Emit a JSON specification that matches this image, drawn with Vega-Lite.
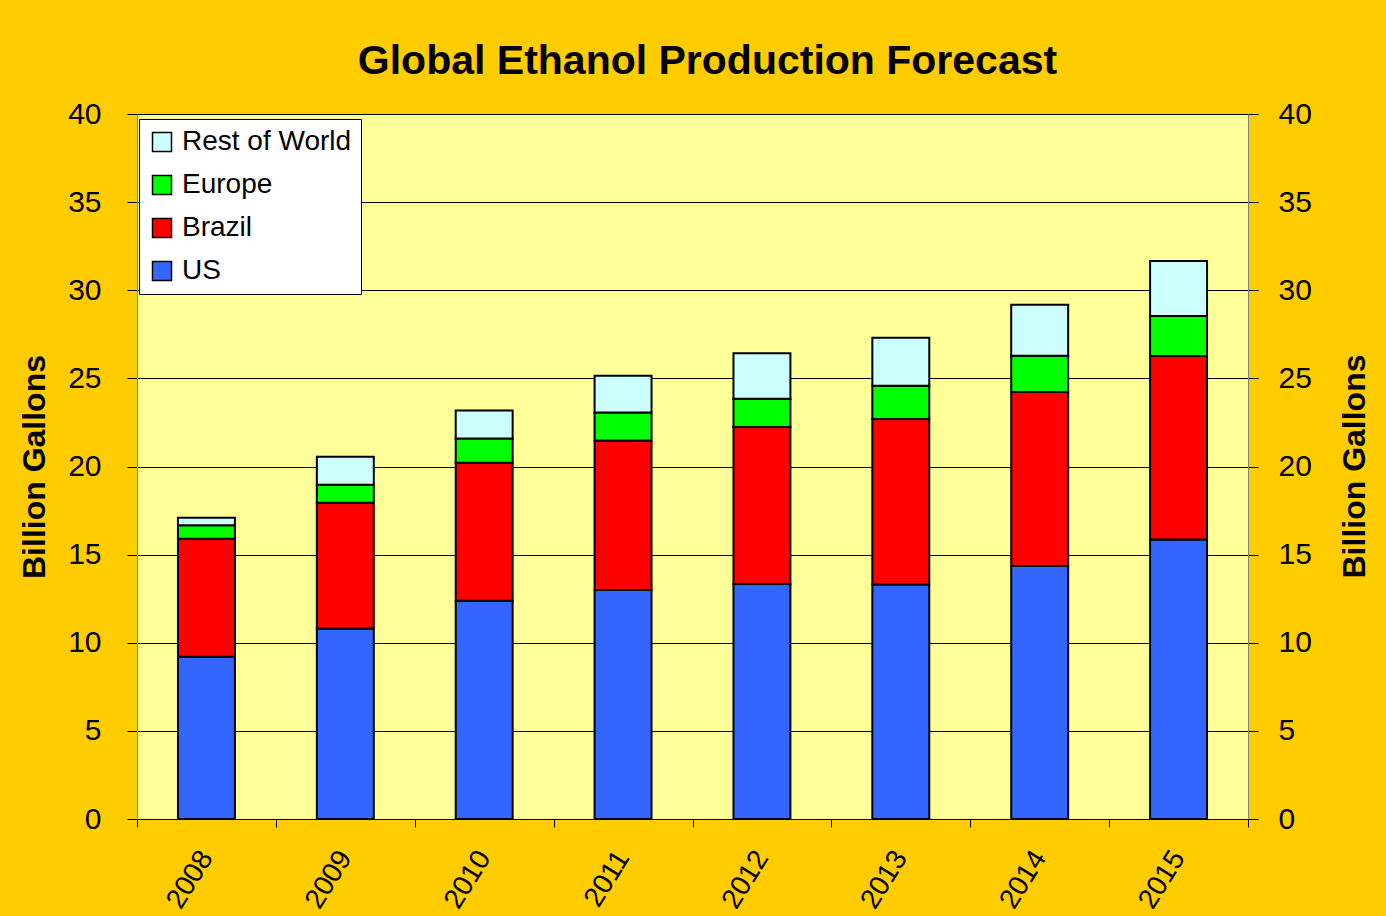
{
  "$schema": "https://vega.github.io/schema/vega-lite/v6.json",
  "autosize": {"type": "none"},
  "width": 1111,
  "height": 705,
  "padding": {"left": 137, "top": 114, "right": 138, "bottom": 97},
  "background": "#FFCC00",
  "title": {
    "text": "Global Ethanol Production Forecast",
    "font": "Liberation Sans",
    "fontSize": 41,
    "fontWeight": "bold",
    "color": "black",
    "anchor": "middle",
    "dx": 15,
    "offset": 16
  },
  "data": {
    "values": [
      {"year": "2008", "region": "US", "k": 1, "value": 9.21},
      {"year": "2008", "region": "Brazil", "k": 2, "value": 6.69},
      {"year": "2008", "region": "Europe", "k": 3, "value": 0.76},
      {"year": "2008", "region": "Rest of World", "k": 4, "value": 0.43},
      {"year": "2009", "region": "US", "k": 1, "value": 10.81},
      {"year": "2009", "region": "Brazil", "k": 2, "value": 7.14},
      {"year": "2009", "region": "Europe", "k": 3, "value": 1.02},
      {"year": "2009", "region": "Rest of World", "k": 4, "value": 1.59},
      {"year": "2010", "region": "US", "k": 1, "value": 12.39},
      {"year": "2010", "region": "Brazil", "k": 2, "value": 7.82},
      {"year": "2010", "region": "Europe", "k": 3, "value": 1.38},
      {"year": "2010", "region": "Rest of World", "k": 4, "value": 1.59},
      {"year": "2011", "region": "US", "k": 1, "value": 12.99},
      {"year": "2011", "region": "Brazil", "k": 2, "value": 8.48},
      {"year": "2011", "region": "Europe", "k": 3, "value": 1.6},
      {"year": "2011", "region": "Rest of World", "k": 4, "value": 2.08},
      {"year": "2012", "region": "US", "k": 1, "value": 13.33},
      {"year": "2012", "region": "Brazil", "k": 2, "value": 8.91},
      {"year": "2012", "region": "Europe", "k": 3, "value": 1.6},
      {"year": "2012", "region": "Rest of World", "k": 4, "value": 2.58},
      {"year": "2013", "region": "US", "k": 1, "value": 13.3},
      {"year": "2013", "region": "Brazil", "k": 2, "value": 9.39},
      {"year": "2013", "region": "Europe", "k": 3, "value": 1.89},
      {"year": "2013", "region": "Rest of World", "k": 4, "value": 2.73},
      {"year": "2014", "region": "US", "k": 1, "value": 14.35},
      {"year": "2014", "region": "Brazil", "k": 2, "value": 9.88},
      {"year": "2014", "region": "Europe", "k": 3, "value": 2.05},
      {"year": "2014", "region": "Rest of World", "k": 4, "value": 2.9},
      {"year": "2015", "region": "US", "k": 1, "value": 15.86},
      {"year": "2015", "region": "Brazil", "k": 2, "value": 10.41},
      {"year": "2015", "region": "Europe", "k": 3, "value": 2.27},
      {"year": "2015", "region": "Rest of World", "k": 4, "value": 3.12}
    ]
  },
  "encoding": {
    "x": {
      "field": "year",
      "type": "ordinal",
      "scale": {"paddingInner": 0, "paddingOuter": 0},
      "axis": {
        "title": null,
        "labelAngle": -58,
        "labelFont": "Liberation Sans",
        "labelFontSize": 28,
        "labelColor": "black",
        "labelPadding": 26,
        "tickBand": "extent",
        "tickSize": 8,
        "tickColor": "black",
        "domainColor": "black",
        "domainWidth": 1,
        "grid": false
      }
    }
  },
  "layer": [
    {
      "mark": {"type": "bar", "stroke": "black", "strokeWidth": 2, "width": {"band": 0.41}},
      "encoding": {
        "y": {
          "field": "value",
          "type": "quantitative",
          "stack": "zero",
          "scale": {"domain": [0, 40], "nice": false},
          "axis": {
            "orient": "left",
            "values": [0, 5, 10, 15, 20, 25, 30, 35, 40],
            "title": "Billion Gallons",
            "titleFont": "Liberation Sans",
            "titleFontSize": 32,
            "titleFontWeight": "bold",
            "titleColor": "black",
            "titlePadding": 16,
            "labelFont": "Liberation Sans",
            "labelFontSize": 30,
            "labelColor": "black",
            "labelPadding": 26,
            "tickSize": 10,
            "tickColor": "black",
            "domainColor": "#808080",
            "grid": true,
            "gridColor": "black",
            "gridWidth": 1
          }
        },
        "color": {
          "field": "region",
          "type": "nominal",
          "scale": {
            "domain": ["Rest of World", "Europe", "Brazil", "US"],
            "range": ["#CCFFFF", "#00FF00", "#FF0000", "#3366FF"]
          },
          "legend": {
            "title": null,
            "orient": "none",
            "legendX": 2,
            "legendY": 5,
            "fillColor": "white",
            "strokeColor": "black",
            "padding": 9,
            "symbolType": "square",
            "symbolSize": 361,
            "symbolStrokeColor": "black",
            "symbolStrokeWidth": 1.5,
            "symbolOpacity": 1,
            "labelFont": "Liberation Sans",
            "labelFontSize": 28,
            "labelColor": "black",
            "labelOffset": 6,
            "labelLimit": 400,
            "rowPadding": 15
          }
        },
        "order": {"field": "k", "type": "quantitative"}
      }
    },
    {
      "mark": {"type": "bar", "opacity": 0, "width": {"band": 0.41}},
      "encoding": {
        "y": {
          "field": "value",
          "type": "quantitative",
          "stack": "zero",
          "scale": {"domain": [0, 40], "nice": false},
          "axis": {
            "orient": "right",
            "values": [0, 5, 10, 15, 20, 25, 30, 35, 40],
            "title": "Billion Gallons",
            "titleAngle": 270,
            "titleX": 106,
            "titleY": 352,
            "titleAlign": "center",
            "titleBaseline": "middle",
            "titleFont": "Liberation Sans",
            "titleFontSize": 32,
            "titleFontWeight": "bold",
            "titleColor": "black",
            "labelFont": "Liberation Sans",
            "labelFontSize": 30,
            "labelColor": "black",
            "labelPadding": 20,
            "tickSize": 10,
            "tickColor": "black",
            "domainColor": "#808080",
            "grid": false
          }
        },
        "order": {"field": "k", "type": "quantitative"}
      }
    }
  ],
  "resolve": {"scale": {"y": "independent"}},
  "config": {
    "view": {"fill": "#FFFF99", "stroke": null}
  }
}
